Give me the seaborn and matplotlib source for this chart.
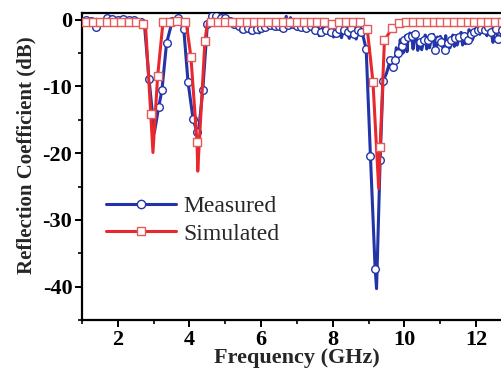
import matplotlib
matplotlib.use("Agg")
import matplotlib.pyplot as plt
from matplotlib.lines import Line2D
import seaborn as sns
import pandas as pd

# ---------------- data ----------------
# Measured: points carrying circle markers
meas_mark_freq = [1.1, 1.25, 1.39, 1.55, 1.7, 1.85, 2.0, 2.15, 2.3, 2.45, 2.64,
                  2.87, 3.14, 3.23, 3.36, 3.52, 3.67, 3.84, 3.96, 4.10, 4.21, 4.37,
                  4.5, 4.62, 4.75, 4.88, 5.0, 5.12, 5.25, 5.38, 5.5, 5.62, 5.75, 5.88,
                  6.0, 6.12, 6.25, 6.38, 6.5, 6.62, 6.75, 6.88, 7.0, 7.12, 7.25, 7.38,
                  7.5, 7.67, 7.8, 7.95, 8.08, 8.18, 8.3, 8.41, 8.5, 8.6, 8.7, 8.79,
                  8.93, 9.05, 9.18, 9.32, 9.4, 9.6, 9.67, 9.74, 9.81, 9.92, 10.0,
                  10.1, 10.2, 10.28, 10.42, 10.54, 10.65, 10.75, 10.84, 10.95, 11.02,
                  11.12, 11.22, 11.3, 11.42, 11.53, 11.65, 11.77, 11.85, 11.95, 12.05,
                  12.14, 12.25, 12.33, 12.42, 12.55, 12.62, 12.72, 12.85, 12.95]
meas_mark_db = [0.0, -0.2, -1.1, -0.3, 0.2, 0.1, 0.0, 0.1, 0.0, -0.1, -0.4,
                -8.9, -13.1, -10.6, -3.5, -0.2, 0.2, -1.4, -9.4, -14.9, -16.9, -10.6,
                -0.6, 0.6, 0.5, 0.3, 0.2, -0.2, -0.6, -1.0, -1.4, -1.3, -1.5, -1.4,
                -1.2, -1.1, -0.8, -1.0, -0.9, -1.2, -0.8, -0.6, -0.9, -1.1, -1.3, -1.0,
                -1.5, -1.9, -1.6, -1.9, -2.0, -1.4, -1.6, -1.9, -1.2, -2.1, -1.6, -1.9,
                -4.4, -20.5, -37.3, -21.1, -9.2, -6.1, -7.1, -6.1, -5.0, -3.9, -3.1,
                -2.6, -2.4, -2.1, -3.4, -3.1, -3.1, -2.6, -4.6, -3.0, -3.4,
                -4.6, -3.5, -3.1, -2.8, -2.6, -2.5, -3.1, -2.1, -1.8, -1.6,
                -1.4, -1.6, -1.1, -1.9, -1.4, -2.9, -1.5, -2.0, -1.6]
# Measured: additional trace points (minima and noise) without markers
meas_line_freq = [1.0, 2.75, 3.02, 4.24, 9.22, 9.5,
                  5.44, 5.56, 5.7, 5.82, 5.95, 6.06, 6.3, 6.45, 6.7, 6.82, 7.06,
                  7.3, 7.44, 7.58, 7.62, 7.73, 7.88, 8.02, 8.13, 8.24, 8.35, 8.46,
                  8.55, 8.65, 8.74, 8.85,
                  9.77, 9.84, 9.88, 9.96, 10.03, 10.07, 10.15, 10.24, 10.32, 10.37,
                  10.48, 10.58, 10.62, 10.7, 10.8, 10.88, 10.92, 11.0, 11.07, 11.15,
                  11.18, 11.27, 11.35, 11.39, 11.47, 11.58, 11.62, 11.7, 11.8, 11.9,
                  12.0, 12.1, 12.2, 12.3, 12.38, 12.47, 12.52, 12.67, 12.78, 12.9,
                  13.0]
meas_line_db = [0.1, -1.2, -16.9, -17.4, -40.3, -8.0,
                -1.8, -0.6, -2.0, -0.7, -2.0, -0.4, 0.0, -0.2, 0.5, 0.3, -0.2,
                -0.4, -0.3, -0.6, -2.4, -0.8, -0.7, -2.6, -0.5, -2.7, -0.9, -2.8,
                -0.8, -2.9, -1.0, -2.6,
                -4.2, -5.6, -3.0, -5.0, -2.4, -4.8, -2.0, -4.4, -2.2, -4.6,
                -4.5, -2.3, -4.4, -4.2, -2.2, -4.6, -2.6, -2.5, -4.2, -2.4,
                -4.4, -4.2, -2.3, -4.0, -3.8, -1.9, -3.8, -3.6, -1.5, -3.0,
                -1.2, -2.2, -1.0, -2.4, -0.8, -3.4, -1.0, -3.0, -1.2, -2.8,
                -1.5]

# Simulated: points carrying square markers
sim_mark_freq = [1.1, 1.3, 1.5, 1.7, 1.9, 2.1, 2.3, 2.5, 2.7, 2.92, 3.11, 3.26,
                 3.45, 3.66, 3.87, 4.04, 4.21, 4.43, 4.6, 4.8, 5.0, 5.2, 5.4, 5.6,
                 5.8, 6.0, 6.2, 6.4, 6.6, 6.8, 7.0, 7.2, 7.4, 7.56, 7.76, 7.97,
                 8.17, 8.37, 8.56, 8.76, 8.96, 9.12, 9.32, 9.44, 9.65, 9.86, 10.05,
                 10.24, 10.43, 10.62, 10.81, 11.0, 11.19, 11.38, 11.57, 11.76, 11.95,
                 12.14, 12.33, 12.52, 12.71, 12.9]
sim_mark_db = [-0.3, -0.3, -0.3, -0.3, -0.3, -0.3, -0.3, -0.3, -0.6, -14.2, -8.5, -0.4,
               -0.3, -0.2, -0.4, -5.6, -18.4, -3.2, -0.4, -0.3, -0.3, -0.3, -0.3, -0.3,
               -0.3, -0.3, -0.3, -0.3, -0.3, -0.3, -0.3, -0.3, -0.3, -0.3, -0.3, -0.6,
               -0.3, -0.3, -0.3, -0.4, -1.4, -9.3, -19.1, -3.1, -1.3, -0.5, -0.4,
               -0.4, -0.3, -0.3, -0.3, -0.3, -0.3, -0.3, -0.3, -0.3, -0.4,
               -0.4, -0.4, -0.4, -0.4, -0.4]
# Simulated: additional trace points without markers
sim_line_freq = [1.0, 2.78, 2.98, 3.92, 4.23, 4.5, 9.28, 13.0]
sim_line_db = [-0.3, -1.5, -19.9, -0.9, -22.7, -0.5, -25.3, -0.4]

x_ticks = [2, 4, 6, 8, 10, 12]
x_tick_labels = ["2", "4", "6", "8", "10", "12"]
y_ticks = [0, -10, -20, -30, -40]
y_tick_labels = ["0", "-10", "-20", "-30", "-40"]
series_names = ["Measured", "Simulated"]

# ---------------- style ----------------
sns.set_theme(style="ticks")
plt.rcParams["font.family"] = ["Liberation Serif", "DejaVu Serif"]
plt.rcParams["axes.unicode_minus"] = False

BLUE = "#2234a8"
RED = "#e8282c"
RED_EDGE = "#e45a5a"

fig = plt.figure(figsize=(5.02, 3.68), dpi=100)
ax = fig.add_axes([82 / 502, 1 - 320 / 368, 430 / 502, 307 / 368])

meas_line = pd.DataFrame({"freq": meas_mark_freq + meas_line_freq,
                          "db": meas_mark_db + meas_line_db}).sort_values("freq")
sim_line = pd.DataFrame({"freq": sim_mark_freq + sim_line_freq,
                         "db": sim_mark_db + sim_line_db}).sort_values("freq")
meas_pts = pd.DataFrame({"freq": meas_mark_freq, "db": meas_mark_db})
sim_pts = pd.DataFrame({"freq": sim_mark_freq, "db": sim_mark_db})

sns.lineplot(data=meas_line, x="freq", y="db", estimator=None, sort=False,
             color=BLUE, lw=2.2, ax=ax, zorder=2)
sns.scatterplot(data=meas_pts, x="freq", y="db", marker="o", s=30,
                facecolor="white", edgecolor=BLUE, linewidth=1.0, ax=ax, zorder=3)
sns.lineplot(data=sim_line, x="freq", y="db", estimator=None, sort=False,
             color=RED, lw=2.2, ax=ax, zorder=4)
sns.scatterplot(data=sim_pts, x="freq", y="db", marker="s", s=26,
                facecolor="white", edgecolor=RED_EDGE, linewidth=1.0, ax=ax, zorder=5)

ax.set_xlim(1, 13)
ax.set_ylim(-45, 1)
ax.set_xticks(x_ticks)
ax.set_xticklabels(x_tick_labels, fontweight="bold", fontsize=16)
ax.set_yticks(y_ticks)
ax.set_yticklabels(y_tick_labels, fontweight="bold", fontsize=16)
ax.set_xticks([1, 3, 5, 7, 9, 11, 13], minor=True)
ax.set_yticks([-5, -15, -25, -35, -45], minor=True)
ax.tick_params(which="major", direction="out", length=5, width=1.4, pad=2,
               color="black", labelcolor="black")
ax.tick_params(which="minor", direction="out", length=3, width=1.2, color="black")
ax.tick_params(axis="x", which="major", pad=2)

for s in ax.spines.values():
    s.set_linewidth(1.6)
    s.set_color("black")

ax.set_xlabel("Frequency (GHz)", fontweight="bold", fontsize=16, labelpad=-1)
ax.set_ylabel("Reflection Coefficient (dB)", fontweight="bold", fontsize=15)
ax.yaxis.set_label_coords(-0.105, 0.537)

handles = [
    Line2D([], [], color=BLUE, lw=2.2, marker="o", markersize=6,
           markerfacecolor="white", markeredgecolor=BLUE, markeredgewidth=1.0),
    Line2D([], [], color=RED, lw=2.2, marker="s", markersize=5.5,
           markerfacecolor="white", markeredgecolor=RED_EDGE, markeredgewidth=1.0),
]
ax.legend(handles, series_names, loc="upper left", bbox_to_anchor=(0.055, 0.405),
          frameon=False, fontsize=17, handlelength=3.0, handletextpad=0.3,
          labelspacing=0.25, borderpad=0, borderaxespad=0)

fig.savefig("out.png", dpi=100)
